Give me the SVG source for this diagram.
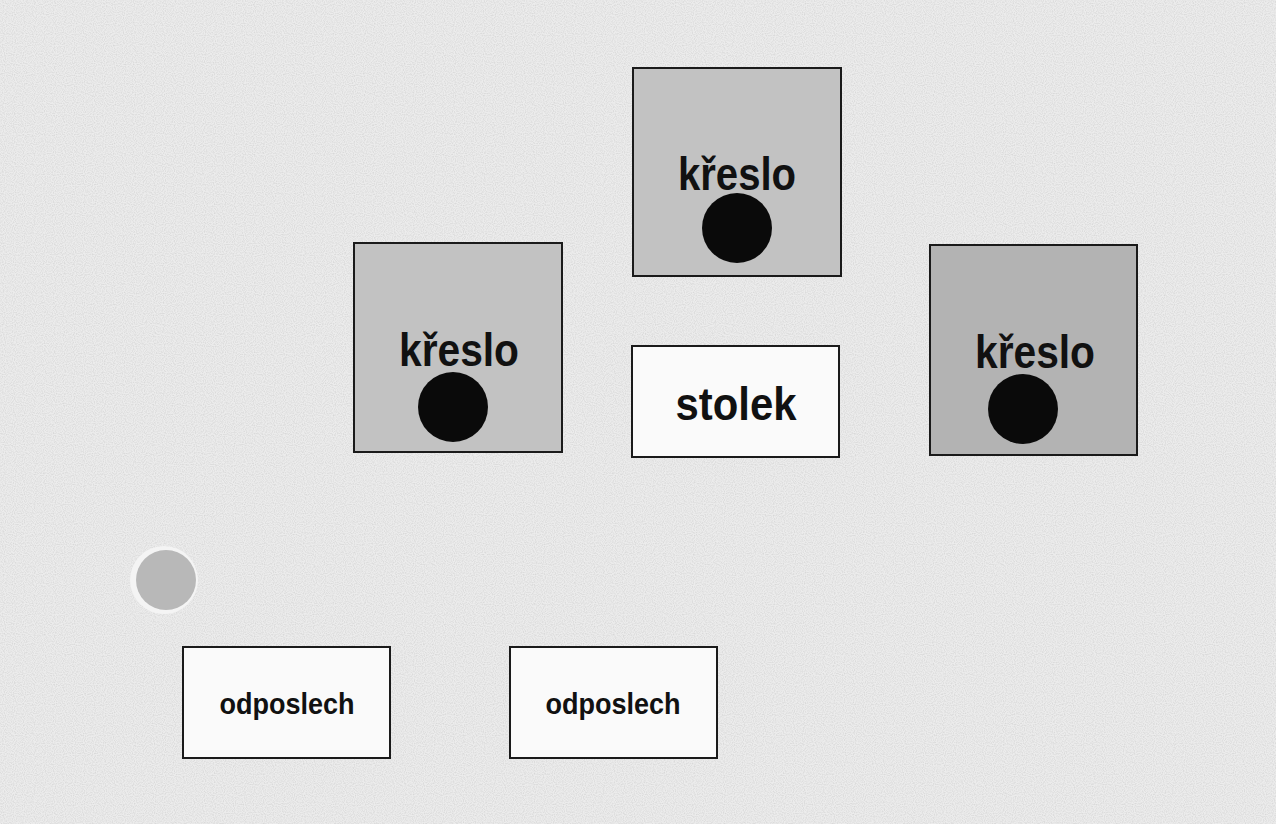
<svg xmlns="http://www.w3.org/2000/svg" width="1276" height="824" viewBox="0 0 1276 824">
<defs>
<filter id="noise" x="0" y="0" width="100%" height="100%">
<feTurbulence type="fractalNoise" baseFrequency="0.9" numOctaves="1" seed="3" result="t"/>
<feColorMatrix in="t" type="matrix" values="0 0 0 0 0  0 0 0 0 0  0 0 0 0 0  0 0 0 -1.2 0.75" result="a"/>
<feComposite in="SourceGraphic" in2="a" operator="in"/>
</filter>
<style>
.chair{fill:#c2c2c2;stroke:#1a1a1a;stroke-width:2}
.chair2{fill:#b3b3b3;stroke:#1a1a1a;stroke-width:2}
.box{fill:#fafafa;stroke:#1a1a1a;stroke-width:2}
.lbl{font-family:"Liberation Sans",Arial,sans-serif;font-weight:bold;fill:#111;text-anchor:middle}
.big{font-size:46px}
.small{font-size:30px}
.seat{fill:#0a0a0a}
</style>
</defs>
<rect width="1276" height="824" fill="#ececec"/>
<rect width="1276" height="824" fill="#b0b0b0" filter="url(#noise)" opacity="0.6"/>
<g id="kreslo-top">
<rect class="chair" x="633" y="68" width="208" height="208"/>
<text class="lbl big" x="737" y="190" textLength="118" lengthAdjust="spacingAndGlyphs">křeslo</text>
<circle class="seat" cx="737" cy="228" r="35"/>
</g>
<g id="kreslo-left">
<rect class="chair" x="354" y="243" width="208" height="209"/>
<text class="lbl big" x="459" y="366" textLength="120" lengthAdjust="spacingAndGlyphs">křeslo</text>
<circle class="seat" cx="453" cy="407" r="35"/>
</g>
<g id="kreslo-right">
<rect class="chair2" x="930" y="245" width="207" height="210"/>
<text class="lbl big" x="1035" y="368" textLength="120" lengthAdjust="spacingAndGlyphs">křeslo</text>
<circle class="seat" cx="1023" cy="409" r="35"/>
</g>
<g id="stolek">
<rect class="box" x="632" y="346" width="207" height="111"/>
<text class="lbl big" x="736" y="420" textLength="121" lengthAdjust="spacingAndGlyphs">stolek</text>
</g>
<g id="mikrofon">
<circle cx="164" cy="580" r="34" fill="#f4f4f4"/>
<circle cx="166" cy="580" r="30" fill="#b8b8b8"/>
</g>
<g id="odposlech-1">
<rect class="box" x="183" y="647" width="207" height="111"/>
<text class="lbl small" x="287" y="714" textLength="135" lengthAdjust="spacingAndGlyphs">odposlech</text>
</g>
<g id="odposlech-2">
<rect class="box" x="510" y="647" width="207" height="111"/>
<text class="lbl small" x="613" y="714" textLength="135" lengthAdjust="spacingAndGlyphs">odposlech</text>
</g>
<g id="connectors"/>
</svg>
